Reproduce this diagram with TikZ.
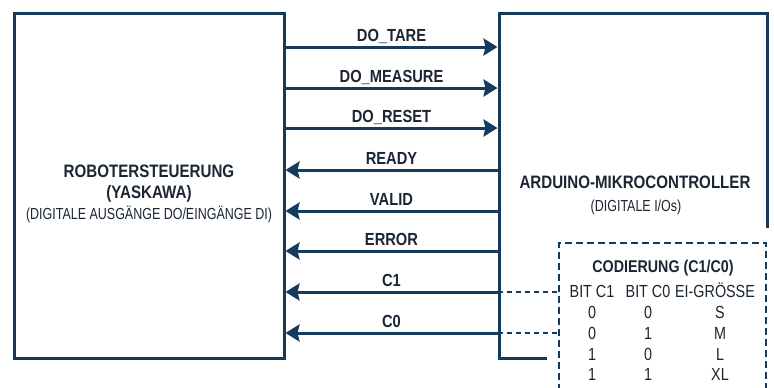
\documentclass[tikz,border=0pt]{standalone}
\usepackage{fontspec}
\setmainfont{Liberation Sans}
\newfontfamily\fB[FakeStretch=0.84]{Liberation Sans}
\newfontfamily\fR[FakeStretch=0.78]{Liberation Sans}
\newfontfamily\fT[FakeStretch=0.82]{Liberation Sans}
\usetikzlibrary{arrows.meta}
\definecolor{navy}{HTML}{143A5E}
\definecolor{ink}{HTML}{1C2633}
\begin{document}
\begin{tikzpicture}[x=1pt,y=-1pt,
  blockbox/.style={draw=navy, line width=3pt, fill=white, inner sep=0pt},
  sig/.style={draw=navy, line width=3pt, -{Stealth[length=14pt,width=17pt,inset=2pt]}},
  sigtxt/.style={anchor=base, text=ink, inner sep=0pt, font={\fB\bfseries\fontsize{17.5}{20}\selectfont}},
  titletxt/.style={anchor=base, text=ink, inner sep=0pt, font={\fB\bfseries\fontsize{18}{20}\selectfont}},
  subtxt/.style={anchor=base, text=ink, inner sep=0pt, font={\fR\fontsize{16}{18}\selectfont}},
  tabhead/.style={anchor=base, text=ink, inner sep=0pt, font={\fB\bfseries\fontsize{17}{19}\selectfont}},
  tabtxt/.style={anchor=base, text=ink, inner sep=0pt, font={\fT\fontsize{17.5}{19}\selectfont}},
  codebox/.style={draw=navy, line width=2pt, dash pattern=on 7pt off 4pt, fill=white, inner sep=0pt, outer sep=0pt},
  link/.style={draw=navy, line width=2pt, dash pattern=on 5pt off 4pt}
]
\useasboundingbox (0,0) rectangle (774,388);
\clip (0,0) rectangle (774,388);
\fill[white] (0,0) rectangle (774,388);

% blocks
\node[blockbox, minimum width=270pt, minimum height=345pt] (L) at (149,185.5) {};
\node[blockbox, minimum width=268pt, minimum height=345pt] (R) at (633,185.5) {};

% block texts
\node[titletxt] (Lt1) at (149,177) {ROBOTERSTEUERUNG};
\node[titletxt] (Lt2) at (149,198) {(YASKAWA)};
\node[subtxt] (Lt3) at (149,219.5) {(DIGITALE AUSGÄNGE DO/EINGÄNGE DI)};
\node[titletxt] (Rt1) at (635,188) {ARDUINO-MIKROCONTROLLER};
\node[subtxt] (Rt2) at (636,211) {(DIGITALE I/Os)};

% cover and coding box
\fill[white] (547,228) rectangle (780,400);
\node[codebox, anchor=north west, minimum width=207pt, minimum height=160pt] (D) at (559,243) {};

% signal coordinates
\coordinate (s1) at (391.5,47);
\coordinate (s2) at (391.5,88);
\coordinate (s3) at (391.5,128);
\coordinate (s4) at (391.5,170);
\coordinate (s5) at (391.5,211);
\coordinate (s6) at (391.5,251);
\coordinate (s7) at (391.5,292);
\coordinate (s8) at (391.5,333);

\draw[sig] (L.east |- s1) -- (R.west |- s1);
\draw[sig] (L.east |- s2) -- (R.west |- s2);
\draw[sig] (L.east |- s3) -- (R.west |- s3);
\draw[sig] (R.west |- s4) -- (L.east |- s4);
\draw[sig] (R.west |- s5) -- (L.east |- s5);
\draw[sig] (R.west |- s6) -- (L.east |- s6);
\draw[sig] (R.west |- s7) -- (L.east |- s7);
\draw[sig] (R.west |- s8) -- (L.east |- s8);

\node[sigtxt] (l1) at ([yshift=5.5pt]s1) {DO\_TARE};
\node[sigtxt] (l2) at ([yshift=5.5pt]s2) {DO\_MEASURE};
\node[sigtxt] (l3) at ([yshift=5.5pt]s3) {DO\_RESET};
\node[sigtxt] (l4) at ([yshift=5.5pt]s4) {READY};
\node[sigtxt] (l5) at ([yshift=5.5pt]s5) {VALID};
\node[sigtxt] (l6) at ([yshift=5.5pt]s6) {ERROR};
\node[sigtxt] (l7) at ([yshift=5.5pt]s7) {C1};
\node[sigtxt] (l8) at ([yshift=5.5pt]s8) {C0};

% dashed links
\draw[link] (R.west |- s7) -- (D.west |- s7);
\draw[link] (R.west |- s8) -- (D.west |- s8);

% table
\node[tabhead] (th) at (663,272.5) {CODIERUNG (C1/C0)};
\node[tabtxt] (h1) at (592,297.5) {BIT C1};
\node[tabtxt] (h2) at (648,297.5) {BIT C0};
\node[tabtxt] (h3) at (715,297.5) {EI-GRÖSSE};
\node[tabtxt] (a1) at (592,318.5) {0};
\node[tabtxt] (b1) at (648,318.5) {0};
\node[tabtxt] (c1) at (720,318.5) {S};
\node[tabtxt] (a2) at (592,339.5) {0};
\node[tabtxt] (b2) at (648,339.5) {1};
\node[tabtxt] (c2) at (720,339.5) {M};
\node[tabtxt] (a3) at (592,360) {1};
\node[tabtxt] (b3) at (648,360) {0};
\node[tabtxt] (c3) at (720,360) {L};
\node[tabtxt] (a4) at (592,380.5) {1};
\node[tabtxt] (b4) at (648,380.5) {1};
\node[tabtxt] (c4) at (720,380.5) {XL};
\end{tikzpicture}
\end{document}
